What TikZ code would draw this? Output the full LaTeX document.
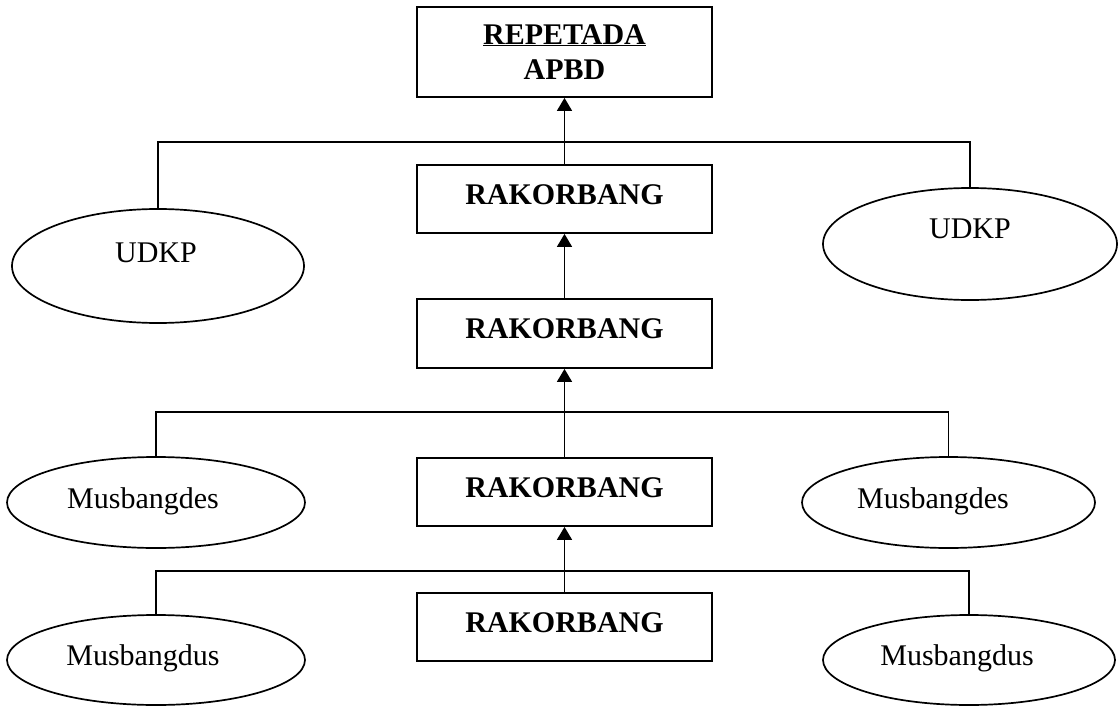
\documentclass[tikz,border=0pt]{standalone}
\usepackage{fontspec}
\setmainfont{Liberation Serif}
\usetikzlibrary{arrows.meta,shapes.geometric}
\begin{document}
\begin{tikzpicture}[x=1pt,y=-1pt,
  every node/.style={font=\fontsize{30}{35.4}\selectfont},
  stagebox/.style={draw, line width=1.8pt, rectangle, minimum width=295pt,
    minimum height=68pt, inner sep=0pt, font=\fontsize{30}{35.4}\selectfont\bfseries,
    text depth=9pt},
  oval/.style={draw, line width=1.7pt, ellipse, inner sep=0pt},
  ovaltext/.style={anchor=base, inner sep=0pt},
  link/.style={line width=1.5pt},
  flow/.style={line width=1.5pt, -{Triangle[width=15pt,length=13pt]}}
]
\useasboundingbox (0,0) rectangle (1119,706);

% stacked meetings along the centre
\node[stagebox, minimum height=90pt, align=center, text depth=0pt] (apbd) at (564.5,52)
  {\underline{REPETADA}\\APBD};
\node[stagebox] (rk1) at (564.5,199) {RAKORBANG};
\node[stagebox, minimum height=69pt] (rk2) at (564.5,333.5) {RAKORBANG};
\node[stagebox] (rk3) at (564.5,492) {RAKORBANG};
\node[stagebox] (rk4) at (564.5,627) {RAKORBANG};

% side meetings
\node[oval, minimum width=292pt, minimum height=114pt] (udkpL) at (158,266) {};
\node[ovaltext] (udkpLt) at (156,262) {UDKP};
\node[oval, minimum width=294pt, minimum height=112pt] (udkpR) at (970,244) {};
\node[ovaltext] (udkpRt) at (970,238) {UDKP};

\node[oval, minimum width=298pt, minimum height=91pt] (desL) at (156,502.5) {};
\node[ovaltext] (desLt) at (143,508) {Musbangdes};
\node[oval, minimum width=293pt, minimum height=91pt] (desR) at (948.5,502.5) {};
\node[ovaltext] (desRt) at (933,508) {Musbangdes};

\node[oval, minimum width=298pt, minimum height=90pt] (dusL) at (156,660) {};
\node[ovaltext] (dusLt) at (143,665) {Musbangdus};
\node[oval, minimum width=292pt, minimum height=90pt] (dusR) at (969,660) {};
\node[ovaltext] (dusRt) at (957,665) {Musbangdus};

% horizontal bus lines
\coordinate (bus1) at (0,142);
\coordinate (bus2) at (0,412);
\coordinate (bus3) at (0,571);

\draw[link] (udkpL.north) -- (udkpL.north |- bus1) -- (udkpR.north |- bus1) -- (udkpR.north);
\draw[link] (desL.north) -- (desL.north |- bus2) -- (desR.north |- bus2) -- (desR.north);
\draw[link] (dusL.north) -- (dusL.north |- bus3) -- (dusR.north |- bus3) -- (dusR.north);

% upward flow
\draw[flow] (rk1.north) -- (apbd.south);
\draw[flow] (rk2.north) -- (rk1.south);
\draw[flow] (rk3.north) -- (rk2.south);
\draw[flow] (rk4.north) -- (rk3.south);
\end{tikzpicture}
\end{document}
